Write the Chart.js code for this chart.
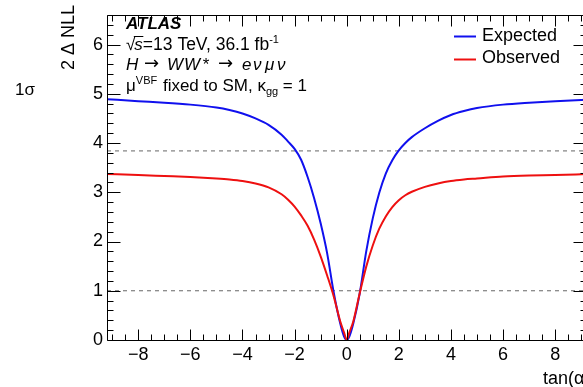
<!DOCTYPE html>
<html>
<head>
<meta charset="utf-8">
<script src="https://cdn.jsdelivr.net/npm/chart.js@4.4.1/dist/chart.umd.min.js"></script>
<style>
  html, body { margin: 0; padding: 0; background: #fff; overflow: hidden; width: 583px; height: 387px; }
  #wrap { position: absolute; left: 0; top: 0; width: 600px; height: 387px; }
</style>
</head>
<body>
<div id="wrap"><canvas id="c" width="600" height="387"></canvas></div>
<script>
// ---- data ----
const xVals = [-9.2,-8,-7,-6,-5,-4.5,-4,-3.5,-3,-2.5,-2.25,-2,-1.75,-1.5,-1.25,-1,-0.75,-0.5,-0.25,-0.1,0,0.1,0.25,0.5,0.75,1,1.25,1.5,1.75,2,2.25,2.5,3,3.5,4,4.5,5,6,7,8,9.2];
const expected = [4.89,4.85,4.82,4.78,4.72,4.67,4.60,4.50,4.37,4.17,4.03,3.88,3.66,3.31,2.88,2.37,1.76,0.97,0.34,0.07,0,0.07,0.33,0.95,1.80,2.47,2.99,3.38,3.65,3.85,4.00,4.12,4.30,4.45,4.57,4.65,4.71,4.78,4.82,4.85,4.88];
const observed = [3.37,3.35,3.33,3.31,3.28,3.26,3.23,3.18,3.10,2.96,2.85,2.71,2.53,2.32,2.04,1.70,1.31,0.89,0.38,0.15,0,0.15,0.37,0.95,1.49,1.92,2.26,2.51,2.70,2.84,2.94,3.01,3.11,3.18,3.23,3.26,3.28,3.32,3.34,3.35,3.37];
const thresholdLevels = [1, 3.84];
const xRange = [-9.2, 9.2];
const yRange = [0, 6.6];
const xTickValues = [-8,-6,-4,-2,0,2,4,6,8];
const yTickValues = [0,1,2,3,4,5,6];
const seriesNames = ['Expected', 'Observed'];

const FONT = "'Liberation Sans', Arial, Helvetica, sans-serif";
const BLUE = '#1010ee';
const RED = '#ee1010';

function pts(xs, ys) { return xs.map((x, i) => ({ x: x, y: ys[i] })); }

const datasets = [
  { label: seriesNames[1], data: pts(xVals, observed), borderColor: RED, borderWidth: 2, pointRadius: 0, cubicInterpolationMode: 'monotone', fill: false, order: 0 },
  { label: seriesNames[0], data: pts(xVals, expected), borderColor: BLUE, borderWidth: 2, pointRadius: 0, cubicInterpolationMode: 'monotone', fill: false, order: 1 }
];
thresholdLevels.forEach((lv, i) => {
  datasets.push({ label: 'thr' + i, data: [{ x: xRange[0], y: lv }, { x: xRange[1], y: lv }], borderColor: '#666', borderWidth: 1, borderDash: [4, 4], pointRadius: 0, fill: false, order: 2 });
});

function fmt(v) { return v < 0 ? '\u2212' + Math.abs(v) : String(v); }

const decor = {
  id: 'decor',
  afterDraw(chart) {
    const ctx = chart.ctx;
    const a = chart.chartArea;
    const xs = chart.scales.x, ys = chart.scales.y;
    ctx.save();
    // frame
    ctx.strokeStyle = '#000';
    ctx.lineWidth = 1;
    const L = Math.round(a.left) + 0.5, R = Math.round(a.right) + 0.5, T = Math.round(a.top) + 0.5, B = Math.round(a.bottom) + 0.5;
    ctx.beginPath();
    ctx.rect(L, T, R - L, B - T);
    ctx.stroke();
    // x ticks (major every 2, minor every 0.5)
    ctx.beginPath();
    for (let k = -18; k <= 18; k++) {
      const v = k * 0.5;
      if (v < xRange[0] || v > xRange[1]) continue;
      const px = Math.round(xs.getPixelForValue(v)) + 0.5;
      const len = (k % 4 === 0) ? 11 : 6;
      ctx.moveTo(px, B); ctx.lineTo(px, B - len);
      ctx.moveTo(px, T); ctx.lineTo(px, T + len);
    }
    // y ticks (major every 1, minor every 0.2)
    for (let k = 0; k <= 33; k++) {
      const v = k * 0.2;
      if (v > yRange[1] + 1e-9) continue;
      const py = Math.round(ys.getPixelForValue(v)) + 0.5;
      const len = (k % 5 === 0) ? 13 : 6;
      ctx.moveTo(L, py); ctx.lineTo(L + len, py);
      ctx.moveTo(R, py); ctx.lineTo(R - len, py);
    }
    ctx.stroke();

    ctx.fillStyle = '#000';
    ctx.textBaseline = 'alphabetic';
    ctx.textAlign = 'left';
    // ATLAS label block
    ctx.font = 'italic bold 17px ' + FONT;
    ctx.fillText('ATLAS', 126, 29);

    function seq(parts, x, y) {
      parts.forEach(p => {
        ctx.font = p.f;
        ctx.fillText(p.t, x, y + (p.dy || 0));
        x += ctx.measureText(p.t).width + (p.gap || 0);
      });
      return x;
    }
    const N = '17px ' + FONT, I = 'italic 17px ' + FONT, S = '11px ' + FONT;
    // line 2: sqrt(s)=13 TeV, 36.1 fb^-1
    ctx.font = N;
    ctx.fillText('\u221A', 126, 50);
    const sx = 126 + ctx.measureText('\u221A').width - 1;
    ctx.font = I;
    ctx.fillText('s', sx, 50);
    const sw = ctx.measureText('s').width;
    ctx.beginPath();
    ctx.moveTo(sx - 0.5, 36.5); ctx.lineTo(sx + sw + 0.5, 36.5);
    ctx.stroke();
    seq([{ t: '=13 TeV, 36.1 fb', f: '17.5px ' + FONT }, { t: '-1', f: S, dy: -7 }], sx + sw, 50);
    // line 3: H -> WW* -> e nu mu nu (pieces placed as in the reference)
    const ARW = "18px 'DejaVu Sans', " + FONT;
    ctx.font = I; ctx.fillText('H', 126, 70);
    ctx.font = ARW; ctx.fillText('\u2192', 144, 69);
    ctx.font = I; ctx.fillText('W', 167, 70); ctx.fillText('W', 184, 70); ctx.fillText('*', 202, 70);
    ctx.font = ARW; ctx.fillText('\u2192', 218, 69);
    ctx.font = I;
    ctx.fillText('e', 242, 70);
    ctx.fillText('\u03BD', 253, 70);
    ctx.fillText('\u03BC', 265, 70);
    ctx.fillText('\u03BD', 277, 70);
    // line 4: mu^VBF fixed to SM, kappa_gg = 1
    seq([{ t: '\u03BC', f: N }, { t: 'VBF', f: S, dy: -7, gap: 1 }, { t: ' fixed to SM, \u03BA', f: N }, { t: 'gg', f: S, dy: 4 }, { t: ' = 1', f: N }], 126, 91);

    // legend
    ctx.lineWidth = 2;
    ctx.strokeStyle = BLUE;
    ctx.beginPath(); ctx.moveTo(454, 36.5); ctx.lineTo(476, 36.5); ctx.stroke();
    ctx.strokeStyle = RED;
    ctx.beginPath(); ctx.moveTo(454, 59.5); ctx.lineTo(476, 59.5); ctx.stroke();
    ctx.font = '18px ' + FONT;
    ctx.textBaseline = 'middle';
    ctx.fillText(seriesNames[0], 482, 36);
    ctx.fillText(seriesNames[1], 482, 58);

    // 1 sigma label
    ctx.font = '17px ' + FONT;
    ctx.fillText('1\u03C3', 15, 90);

    // axis titles
    ctx.font = '18px ' + FONT;
    ctx.textAlign = 'right';
    ctx.textBaseline = 'alphabetic';
    ctx.fillText('tan(\u03B1)', R + 4, 384);
    ctx.save();
    ctx.translate(69, 5);
    ctx.rotate(-Math.PI / 2);
    ctx.textAlign = 'right';
    ctx.textBaseline = 'middle';
    ctx.fillText('2 \u0394 NLL', 0, 0);
    ctx.restore();
    ctx.restore();
  }
};

new Chart(document.getElementById('c'), {
  type: 'line',
  data: { datasets: datasets },
  options: {
    responsive: false,
    animation: false,
    devicePixelRatio: 1,
    layout: { padding: { left: 0, right: 13.6, top: 15, bottom: 0 } },
    plugins: { legend: { display: false }, tooltip: { enabled: false } },
    scales: {
      x: {
        type: 'linear', min: xRange[0], max: xRange[1],
        grid: { display: false, drawTicks: false }, border: { display: false },
        afterBuildTicks: s => { s.ticks = xTickValues.map(v => ({ value: v })); },
        afterFit: s => { s.height = 47; },
        ticks: { color: '#000', font: { family: FONT, size: 18 }, padding: 4, maxRotation: 0, autoSkip: false, callback: v => fmt(v) }
      },
      y: {
        type: 'linear', min: yRange[0], max: yRange[1],
        grid: { display: false, drawTicks: false }, border: { display: false },
        afterBuildTicks: s => { s.ticks = yTickValues.map(v => ({ value: v })); },
        afterFit: s => { s.width = 107; },
        ticks: { color: '#000', font: { family: FONT, size: 18 }, padding: 4, autoSkip: false, callback: v => fmt(v) }
      }
    }
  },
  plugins: [decor]
});
</script>
</body>
</html>
